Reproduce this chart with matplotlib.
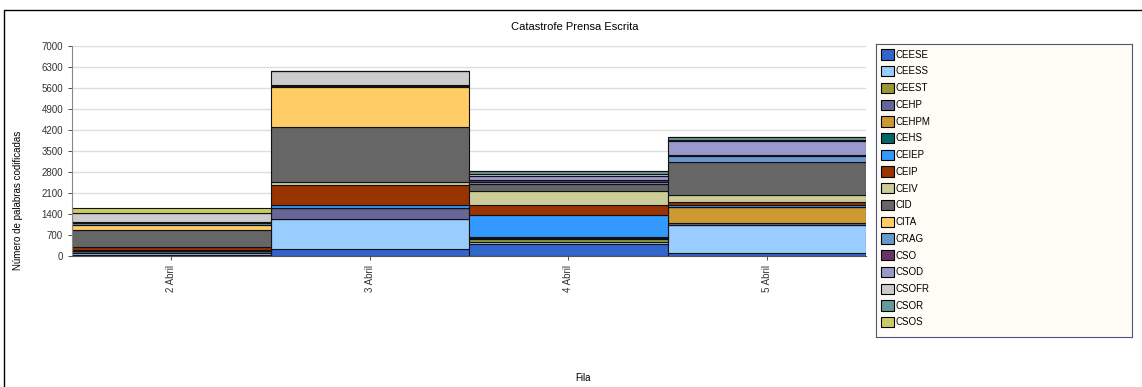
import matplotlib.pyplot as plt
from matplotlib.patches import Patch, Rectangle

plt.rcParams['font.family'] = ['Liberation Sans', 'DejaVu Sans']

fechas = ['2 Abril', '3 Abril', '4 Abril', '5 Abril']

codigos = ['CEESE', 'CEESS', 'CEEST', 'CEHP', 'CEHPM', 'CEHS', 'CEIEP', 'CEIP',
           'CEIV', 'CID', 'CITA', 'CRAG', 'CSO', 'CSOD', 'CSOFR', 'CSOR', 'CSOS']

colores = ['#3366CC', '#99CCFF', '#999933', '#666699', '#CC9933', '#006666',
           '#3399FF', '#993300', '#CCCC99', '#666666', '#FFCC66', '#6699CC',
           '#663366', '#9999CC', '#CCCCCC', '#669999', '#CCCC66']

# valores por codigo: [2 Abril, 3 Abril, 4 Abril, 5 Abril]
CEESE = [30, 230, 390, 90]
CEESS = [60, 1000, 85, 955]
CEEST = [0, 0, 100, 0]
CEHP = [90, 355, 30, 60]
CEHPM = [0, 0, 0, 533]
CEHS = [0, 0, 40, 0]
CEIEP = [30, 100, 710, 60]
CEIP = [90, 690, 333, 110]
CEIV = [0, 80, 490, 222]
CID = [580, 1850, 220, 1090]
CITA = [170, 1333, 0, 0]
CRAG = [40, 25, 60, 222]
CSO = [0, 0, 60, 40]
CSOD = [60, 25, 133, 467]
CSOFR = [280, 475, 90, 30]
CSOR = [20, 0, 80, 90]
CSOS = [150, 0, 0, 0]

series = [CEESE, CEESS, CEEST, CEHP, CEHPM, CEHS, CEIEP, CEIP, CEIV, CID,
          CITA, CRAG, CSO, CSOD, CSOFR, CSOR, CSOS]

W, H = 1142, 387
fig = plt.figure(figsize=(W / 100, H / 100), dpi=100)

# marco exterior
fig.patches.append(Rectangle((4 / W, -0.1), 1.2, 1.1 - 10 / H, transform=fig.transFigure,
                             fill=False, edgecolor='black', linewidth=1.0))

ax = fig.add_axes([72 / W, 1 - 256 / H, (866 - 72) / W, (256 - 46) / H])

x = list(range(len(fechas)))
bottom = [0] * len(fechas)
for vals, col in zip(series, colores):
    ax.bar(x, vals, width=1.0, bottom=bottom, color=col, edgecolor='#111111', linewidth=0.8)
    bottom = [b + v for b, v in zip(bottom, vals)]

ax.set_xlim(-0.5, 3.5)
ax.set_ylim(0, 7000)
ax.set_yticks(range(0, 7001, 700))
ax.set_xticks(x)
ax.set_xticklabels(fechas, rotation=90, fontsize=7, color='#333333')
ax.tick_params(axis='y', labelsize=7, colors='#333333', length=3, width=0.6)
ax.tick_params(axis='x', length=3, width=0.6, colors='#333333')
ax.yaxis.grid(True, color='#DDDDDD', linewidth=1.0)
ax.set_axisbelow(True)
for s in ['top', 'right']:
    ax.spines[s].set_visible(False)
ax.spines['left'].set_color('#888888')
ax.spines['bottom'].set_color('#555555')

fig.text(575 / W, 1 - 27 / H, 'Catastrofe Prensa Escrita', ha='center', va='center', fontsize=8)
fig.text(583 / W, 1 - 378 / H, 'Fila', ha='center', va='center', fontsize=7)
fig.text(18 / W, 1 - 200 / H, 'Número de palabras codificadas', ha='center', va='center',
         rotation=90, fontsize=7)

# leyenda
lax = fig.add_axes([876 / W, 1 - 337 / H, (1132 - 876) / W, (337 - 44) / H])
lax.set_facecolor('#FFFCF5')
lax.set_xticks([])
lax.set_yticks([])
for s in lax.spines.values():
    s.set_color('#555577')
    s.set_linewidth(0.8)
handles = [Patch(facecolor=c, edgecolor='black', linewidth=0.8) for c in colores]
lax.legend(handles, codigos, loc='upper left', frameon=False, fontsize=7,
           handlelength=1.25, handleheight=1.25, handletextpad=0.25,
           labelspacing=0.65, borderaxespad=0.0, borderpad=0.55)

plt.savefig('out.png', dpi=100)
